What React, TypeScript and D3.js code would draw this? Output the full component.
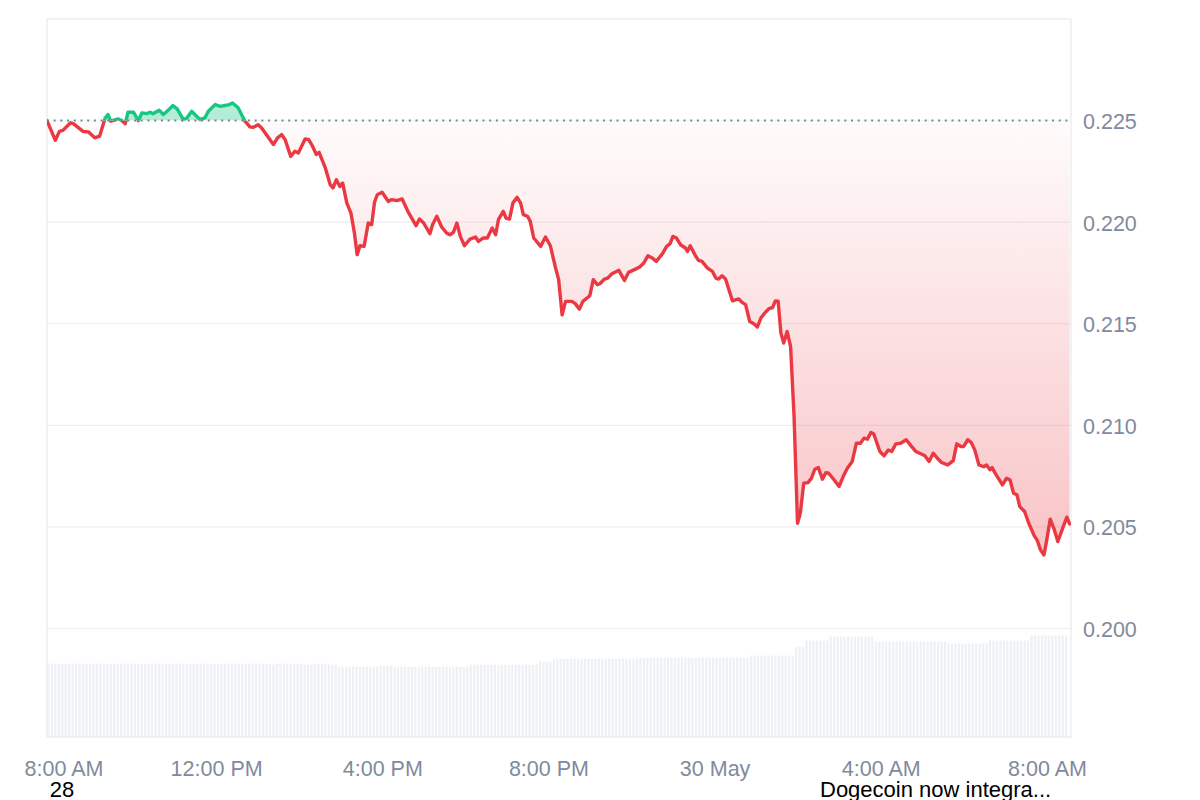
import React from "react";
import * as d3 from "d3";

// ---------- data ----------
// time is given in minutes after 29 May, 08:00
const BASE_TIME = new Date(2024, 4, 29, 8, 0);
const X_DOMAIN_MIN = [-5, 1474];
const OPEN_PRICE = 0.225;
const PRICE_TICKS = [0.2, 0.205, 0.21, 0.215, 0.22, 0.225];
const TIME_TICKS_MIN = [0, 240, 480, 720, 960, 1200, 1440];
const NOTE_DATE = "28";
const NOTE_NEWS = "Dogecoin now integra...";

const PRICE_POINTS: [number, number][] = [
  [-5, 0.225], [7, 0.22403], [13, 0.22447], [18, 0.22452], [29, 0.22489], [33, 0.22485],
  [47, 0.22447], [55, 0.22444], [64, 0.22415], [71, 0.22423], [79, 0.22513], [83, 0.2253],
  [87, 0.22497], [98, 0.22508], [103, 0.225], [108, 0.22485], [112, 0.22541], [120, 0.22541],
  [127, 0.225], [132, 0.22538], [139, 0.22534], [144, 0.22541], [148, 0.22534], [157, 0.22551],
  [163, 0.2253], [170, 0.22551], [177, 0.22574], [183, 0.22558], [192, 0.22505], [197, 0.22513],
  [204, 0.22546], [210, 0.22525], [216, 0.22505], [223, 0.22513], [228, 0.22546], [238, 0.22579],
  [245, 0.2257], [252, 0.22574], [257, 0.22577], [263, 0.22587], [271, 0.22563], [281, 0.22497],
  [288, 0.22469], [293, 0.22467], [300, 0.2248], [305, 0.22464], [322, 0.22382], [328, 0.22415],
  [334, 0.22431], [339, 0.22406], [347, 0.22324], [353, 0.22349], [358, 0.22341], [368, 0.2241],
  [373, 0.22406], [378, 0.22377], [384, 0.22333], [388, 0.22344], [397, 0.22267], [404, 0.22185],
  [408, 0.22168], [413, 0.22209], [418, 0.22176], [422, 0.22193], [428, 0.22095], [434, 0.22045],
  [439, 0.21947], [443, 0.2184], [447, 0.21884], [453, 0.21881], [459, 0.21996], [464, 0.21988],
  [468, 0.22098], [472, 0.22135], [479, 0.22147], [488, 0.22102], [493, 0.22111], [500, 0.22106],
  [508, 0.22114], [517, 0.22048], [528, 0.21983], [533, 0.22016], [539, 0.21996], [548, 0.21943],
  [552, 0.21988], [558, 0.22029], [565, 0.21976], [572, 0.21947], [577, 0.21938], [582, 0.2195],
  [587, 0.21996], [592, 0.2193], [598, 0.21884], [606, 0.21917], [614, 0.21927], [618, 0.21905],
  [625, 0.21922], [631, 0.21922], [638, 0.21971], [643, 0.21938], [647, 0.22012], [654, 0.22053],
  [658, 0.2202], [663, 0.22015], [668, 0.22095], [674, 0.22122], [679, 0.22095], [683, 0.22037],
  [689, 0.22029], [693, 0.22004], [698, 0.21922], [708, 0.21881], [715, 0.21927], [722, 0.21884],
  [729, 0.21782], [734, 0.21717], [739, 0.21544], [744, 0.2161], [753, 0.2161], [758, 0.21599],
  [764, 0.21572], [769, 0.2161], [779, 0.21638], [784, 0.21717], [790, 0.21692], [794, 0.21698],
  [800, 0.2172], [805, 0.21725], [811, 0.21746], [821, 0.21763], [829, 0.21713], [835, 0.21753],
  [845, 0.21769], [851, 0.21779], [857, 0.21799], [863, 0.21835], [869, 0.21824], [875, 0.21807],
  [884, 0.21845], [890, 0.21881], [895, 0.21894], [899, 0.2193], [904, 0.21922], [910, 0.21889],
  [917, 0.21873], [920, 0.21856], [924, 0.21884], [932, 0.21832], [936, 0.21812], [941, 0.21807],
  [949, 0.21774], [956, 0.21758], [961, 0.21725], [965, 0.2172], [970, 0.21736], [975, 0.2172],
  [985, 0.21613], [994, 0.21622], [999, 0.21605], [1004, 0.21594], [1010, 0.21511], [1016, 0.215],
  [1021, 0.21484], [1026, 0.21528], [1033, 0.21558], [1038, 0.21575], [1043, 0.2158], [1047, 0.21612],
  [1051, 0.21611], [1055, 0.21454], [1059, 0.21405], [1064, 0.21462], [1069, 0.21388], [1074, 0.21045],
  [1079, 0.20518], [1083, 0.20567], [1088, 0.20715], [1094, 0.20718], [1099, 0.20739], [1104, 0.20784],
  [1109, 0.20792], [1115, 0.20735], [1120, 0.20767], [1124, 0.20764], [1132, 0.20731], [1139, 0.20699],
  [1146, 0.20756], [1151, 0.20789], [1158, 0.20822], [1164, 0.20912], [1170, 0.20912], [1175, 0.20937],
  [1180, 0.20932], [1185, 0.20965], [1189, 0.20958], [1198, 0.20871], [1204, 0.2085], [1210, 0.20879],
  [1215, 0.20871], [1221, 0.20909], [1228, 0.20912], [1236, 0.20929], [1243, 0.20899], [1250, 0.20871],
  [1257, 0.2086], [1263, 0.2085], [1269, 0.20822], [1275, 0.20863], [1281, 0.20838], [1287, 0.20817],
  [1296, 0.20805], [1304, 0.20826], [1309, 0.20909], [1315, 0.20896], [1319, 0.20896], [1325, 0.20929],
  [1330, 0.20915], [1335, 0.20879], [1341, 0.20805], [1348, 0.20796], [1352, 0.20805], [1357, 0.20781],
  [1360, 0.20792], [1365, 0.20761], [1375, 0.20707], [1381, 0.2074], [1386, 0.20731], [1391, 0.20666],
  [1396, 0.20658], [1400, 0.206], [1407, 0.20576], [1413, 0.20518], [1421, 0.20456], [1425, 0.20436],
  [1430, 0.20387], [1435, 0.20362], [1439, 0.20436], [1444, 0.20538], [1450, 0.20485], [1455, 0.20428],
  [1462, 0.20494], [1468, 0.20548], [1472, 0.20515],
];

// volume bars: one every 5 minutes, starting at 07:57 (billions)
const VOLUME_START_MIN = -3;
const VOLUME_STEP_MIN = 5;
const VOLUMES = [
  0.73, 0.73, 0.73, 0.73, 0.73, 0.73, 0.73, 0.73, 0.73, 0.73, 0.73, 0.73,
  0.73, 0.73, 0.73, 0.73, 0.73, 0.73, 0.73, 0.73, 0.73, 0.73, 0.73, 0.73,
  0.73, 0.73, 0.73, 0.73, 0.73, 0.73, 0.73, 0.73, 0.73, 0.73, 0.73, 0.73,
  0.73, 0.73, 0.73, 0.73, 0.73, 0.73, 0.73, 0.73, 0.73, 0.73, 0.73, 0.73,
  0.73, 0.73, 0.73, 0.73, 0.73, 0.73, 0.73, 0.73, 0.73, 0.73, 0.73, 0.73,
  0.73, 0.73, 0.73, 0.73, 0.72, 0.72, 0.73, 0.73, 0.73, 0.73, 0.73, 0.73,
  0.73, 0.73, 0.72, 0.72, 0.72, 0.73, 0.73, 0.73, 0.73, 0.73, 0.72, 0.72,
  0.7, 0.7, 0.7, 0.7, 0.7, 0.7, 0.7, 0.7, 0.7, 0.7, 0.7, 0.7, 0.71,
  0.71, 0.71, 0.71, 0.7, 0.7, 0.7, 0.7, 0.7, 0.7, 0.7, 0.7, 0.7,
  0.7, 0.7, 0.7, 0.7, 0.7, 0.7, 0.7, 0.7, 0.7, 0.7, 0.7, 0.7, 0.7,
  0.72, 0.72, 0.72, 0.72, 0.72, 0.72, 0.72, 0.72, 0.72, 0.72,
  0.72, 0.72, 0.72, 0.72, 0.72, 0.72, 0.72, 0.72, 0.72, 0.72,
  0.75, 0.75, 0.75, 0.75,
  0.78, 0.78, 0.78, 0.78, 0.78, 0.78, 0.78, 0.78, 0.78, 0.78, 0.78, 0.78, 0.78,
  0.78, 0.78, 0.78, 0.78, 0.78, 0.78, 0.78, 0.78, 0.78, 0.78, 0.78, 0.78,
  0.79, 0.79, 0.79, 0.79, 0.79, 0.79, 0.79, 0.79, 0.79, 0.79, 0.79, 0.79, 0.79, 0.79, 0.79, 0.79,
  0.79, 0.79, 0.79, 0.79, 0.79, 0.79, 0.79, 0.79, 0.79, 0.79, 0.79, 0.79, 0.79, 0.79, 0.79, 0.79,
  0.81, 0.81, 0.81, 0.81, 0.81, 0.81, 0.81, 0.81, 0.81, 0.81, 0.81, 0.81, 0.81,
  0.9, 0.9, 0.9,
  0.96, 0.96, 0.96, 0.96, 0.96, 0.96, 0.96,
  1.0, 1.0, 1.0, 1.0, 1.0, 1.0, 1.0, 1.0, 1.0, 1.0, 1.0, 1.0, 1.0,
  0.95, 0.95, 0.95, 0.95, 0.95, 0.95, 0.95, 0.95, 0.95, 0.95, 0.95,
  0.95, 0.95, 0.95, 0.95, 0.95, 0.95, 0.95, 0.95, 0.95, 0.95,
  0.93, 0.93, 0.93, 0.93, 0.93, 0.93, 0.93, 0.93, 0.93, 0.93, 0.93, 0.93,
  0.96, 0.96, 0.96, 0.96, 0.96, 0.96, 0.96, 0.96, 0.96, 0.96, 0.96, 0.96,
  1.01, 1.01, 1.01, 1.01, 1.01, 1.01, 1.01, 1.01, 1.01, 1.01, 1.01,
];

// ---------- styles ----------
const RED = "#ea3943";
const GREEN = "#16c784";
const GRID = "#eceef1";
const LABEL = "#808a9d";
const FONT = "'Liberation Sans', Arial, Helvetica, sans-serif";

const toDate = (m: number) => new Date(BASE_TIME.getTime() + m * 60000);

export default function App() {
  const W = 1200, H = 800;
  const left = 47, right = 1071, top = 19, bottom = 737;

  const x = d3.scaleTime().domain(X_DOMAIN_MIN.map(toDate)).range([left, right]);
  const y = d3.scaleLinear().domain([0.2, 0.23]).range([628.5, top]);
  const yVol = d3.scaleLinear().domain([0, 1.08]).range([bottom, 628.5]);

  const baseY = y(OPEN_PRICE);
  const px = (d: [number, number]) => x(toDate(d[0]));
  const line = d3.line<[number, number]>().x(px).y((d) => y(d[1]));
  const area = d3
    .area<[number, number]>()
    .x(px)
    .y0(baseY)
    .y1((d) => y(d[1]));

  const fmtTime = d3.timeFormat("%-I:%M %p");
  const fmtDay = d3.timeFormat("%-d %b");
  const minY = y(d3.min(PRICE_POINTS, (d) => d[1]) as number);
  const barW = 2.2;

  return (
    <svg
      width={W}
      height={H}
      style={{ position: "absolute", left: 0, top: 0, display: "block", background: "#fff" }}
      fontFamily={FONT}
    >
      <defs>
        <clipPath id="above">
          <rect x={left} y={top} width={right - left} height={baseY - top} />
        </clipPath>
        <clipPath id="below">
          <rect x={left} y={baseY} width={right - left} height={bottom - baseY} />
        </clipPath>
        <linearGradient id="redFill" gradientUnits="userSpaceOnUse" x1={0} y1={baseY} x2={0} y2={minY}>
          <stop offset="0" stopColor={RED} stopOpacity={0.02} />
          <stop offset="1" stopColor={RED} stopOpacity={0.3} />
        </linearGradient>
      </defs>

      {/* volume bars */}
      <g>
        {VOLUMES.map((v, i) => {
          const cx = x(toDate(VOLUME_START_MIN + i * VOLUME_STEP_MIN));
          return (
            <rect
              key={i}
              x={cx - barW / 2}
              y={yVol(v)}
              width={barW}
              height={bottom - yVol(v)}
              fill="#edf0f4"
            />
          );
        })}
      </g>

      {/* grid */}
      {PRICE_TICKS.filter((t) => t !== OPEN_PRICE).map((t) => (
        <line key={t} x1={left} x2={right} y1={y(t)} y2={y(t)} stroke={GRID} strokeWidth={1.2} />
      ))}

      {/* frame */}
      <rect x={left} y={top} width={right - left} height={bottom - top} fill="none" stroke="#e8eaed" strokeWidth={1.2} />

      {/* areas */}
      <path d={area(PRICE_POINTS) || ""} fill="url(#redFill)" clipPath="url(#below)" />
      <path d={area(PRICE_POINTS) || ""} fill={GREEN} fillOpacity={0.32} clipPath="url(#above)" />

      {/* baseline */}
      <line
        x1={left}
        x2={right}
        y1={baseY}
        y2={baseY}
        stroke="#7d8592"
        strokeWidth={2}
        strokeDasharray="2 4.7"
      />

      {/* price line */}
      <path
        d={line(PRICE_POINTS) || ""}
        fill="none"
        stroke={RED}
        strokeWidth={3.4}
        strokeLinejoin="round"
        strokeLinecap="round"
        clipPath="url(#below)"
      />
      <path
        d={line(PRICE_POINTS) || ""}
        fill="none"
        stroke={GREEN}
        strokeWidth={3.4}
        strokeLinejoin="round"
        strokeLinecap="round"
        clipPath="url(#above)"
      />

      {/* y axis labels */}
      {PRICE_TICKS.map((t) => (
        <text key={t} x={1083} y={y(t) + 8.5} fontSize={21.5} fill={LABEL}>
          {d3.format(".3f")(t)}
        </text>
      ))}

      {/* x axis labels */}
      {TIME_TICKS_MIN.map((m) => {
        const d = toDate(m);
        const label = d.getHours() === 0 && d.getMinutes() === 0 ? fmtDay(d) : fmtTime(d);
        const lx = Math.max(x(d), left + 17);
        return (
          <text key={m} x={lx} y={776} fontSize={21.5} fill={LABEL} textAnchor="middle">
            {label}
          </text>
        );
      })}

      {/* notes */}
      <text x={62} y={797} fontSize={22} fill="#000" textAnchor="middle">
        {NOTE_DATE}
      </text>
      <text x={820} y={797} fontSize={22} fill="#000">
        {NOTE_NEWS}
      </text>
    </svg>
  );
}
